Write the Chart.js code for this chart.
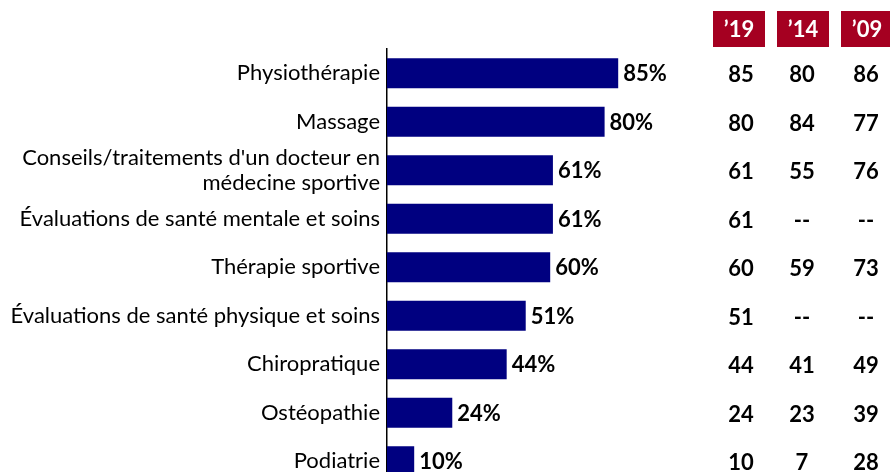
<!DOCTYPE html>
<html><head><meta charset="utf-8">
<script src="https://cdn.jsdelivr.net/npm/chart.js@4.4.1/dist/chart.umd.min.js"></script>
<style>
html,body{margin:0;padding:0;background:#fff;overflow:hidden;width:890px;height:472px}
#wrap{position:relative;width:890px;height:505px}
</style></head>
<body><div id="wrap"><canvas id="c"></canvas></div>
<script>
const categories = [
  'Physiothérapie',
  'Massage',
  ["Conseils/traitements d'un docteur en", 'médecine sportive'],
  'Évaluations de santé mentale et soins',
  'Thérapie sportive',
  'Évaluations de santé physique et soins',
  'Chiropratique',
  'Ostéopathie',
  'Podiatrie'
];
const pct2019 = [85, 80, 61, 61, 60, 51, 44, 24, 10];
const years = ['’19', '’14', '’09'];
const col2019 = [85, 80, 61, 61, 60, 51, 44, 24, 10];
const col2014 = [80, 84, 55, null, 59, null, 41, 23, 7];
const col2009 = [86, 77, 76, null, 73, null, 49, 39, 28];

const FONT = 'Lato, "Open Sans", sans-serif';
const colX = [741, 802, 866];
const boxL = [713, 777, 841];
const boxW = 52;

const tablePlugin = {
  id: 'tablePlugin',
  afterDatasetsDraw(chart) {
    const ctx = chart.ctx;
    const xs = chart.scales.x, ys = chart.scales.y;
    ctx.save();
    ctx.font = 'bold 22px ' + FONT;
    ctx.textBaseline = 'middle';
    ctx.fillStyle = '#000';
    ctx.textAlign = 'left';
    pct2019.forEach((v, i) => {
      ctx.fillText(v + '%', xs.getPixelForValue(v) + 5, ys.getPixelForValue(i) + 1);
    });
    ctx.textAlign = 'center';
    [col2019, col2014, col2009].forEach((col, c) => {
      col.forEach((v, i) => {
        ctx.fillText(v === null ? '--' : String(v), colX[c], ys.getPixelForValue(i) + 2);
      });
    });
    years.forEach((y, c) => {
      ctx.fillStyle = '#A50021';
      ctx.fillRect(boxL[c], 11, boxW, 36);
      ctx.fillStyle = '#fff';
      ctx.fillText(y, boxL[c] + boxW / 2, 30);
    });
    ctx.restore();
  }
};

new Chart(document.getElementById('c'), {
  type: 'bar',
  data: {
    labels: categories,
    datasets: [{
      data: pct2019,
      backgroundColor: '#000080',
      borderWidth: 0,
      categoryPercentage: 0.62,
      barPercentage: 1
    }]
  },
  options: {
    indexAxis: 'y',
    responsive: true,
    maintainAspectRatio: false,
    animation: false,
    layout: { padding: { top: 49, right: 231, bottom: 5, left: 0 } },
    plugins: { legend: { display: false }, tooltip: { enabled: false } },
    scales: {
      x: { min: 0, max: 100, display: false },
      y: {
        grid: { display: false, drawTicks: false },
        border: { display: true, color: '#000', width: 1.5 },
        ticks: {
          autoSkip: false,
          color: '#000',
          padding: 7,
          font: { family: FONT, size: 22, lineHeight: 1.14 }
        },
        afterFit(scale) { scale.width = 387; }
      }
    }
  },
  plugins: [tablePlugin]
});
</script>
</body></html>
